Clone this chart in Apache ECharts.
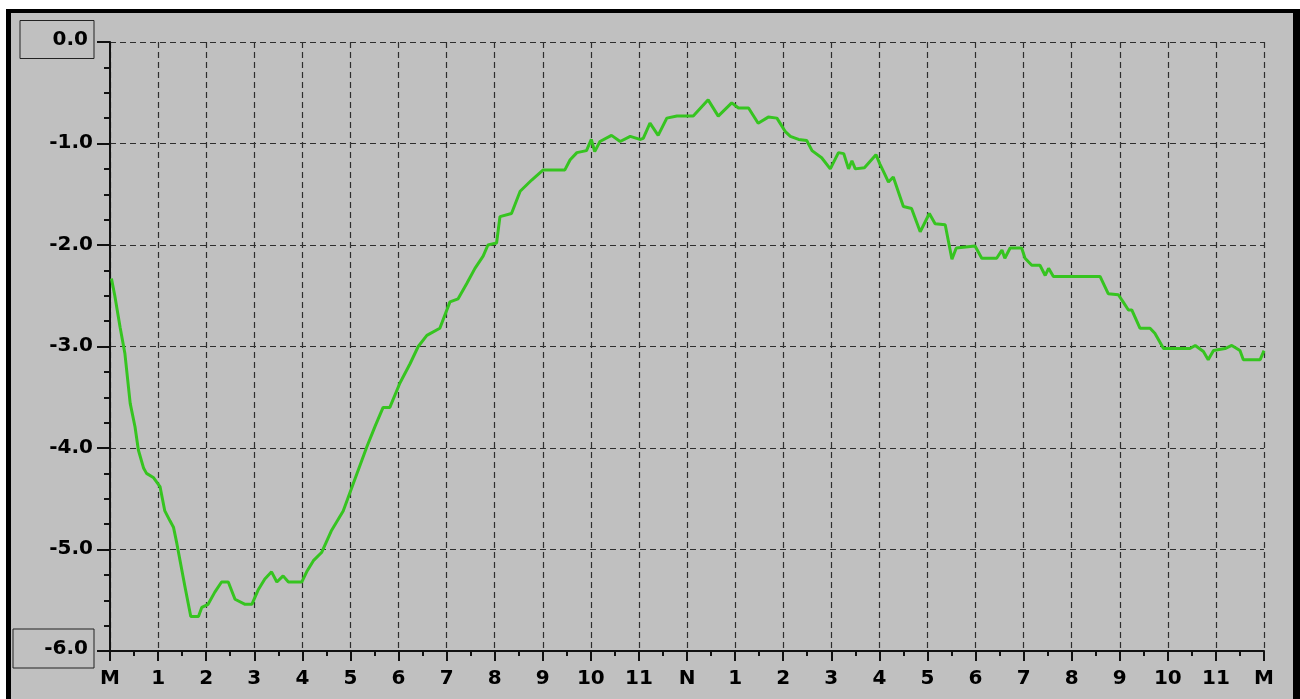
<!DOCTYPE html>
<html>
<head>
<meta charset="utf-8">
<script src="https://cdn.jsdelivr.net/npm/echarts@6/dist/echarts.min.js"></script>
<style>
  html, body { margin: 0; padding: 0; background: #fff; }
  #frame {
    position: absolute; left: 6px; top: 9px;
    width: 1282px; height: 700px;
    border-left: 5px solid #000; border-top: 4px solid #000; border-right: 7px solid #000;
    background: #c0c0c0;
  }
  #chart-container { position: absolute; left: 0; top: 0; width: 1300px; height: 699px; }
</style>
</head>
<body>
<div id="frame"></div>
<div id="chart-container"></div>
<script>
// hour labels along the bottom, midnight .. noon .. midnight
var hourLabels = ["M", "1", "2", "3", "4", "5", "6", "7", "8", "9", "10", "11",
  "N", "1", "2", "3", "4", "5", "6", "7", "8", "9", "10", "11", "M"];

// time of day (hours) and reading
var hours = [0.03, 0.10, 0.21, 0.31, 0.42, 0.52, 0.59, 0.70, 0.76, 0.90,
  1.04, 1.14, 1.25, 1.32, 1.39, 1.56, 1.68, 1.84, 1.91, 2.04,
  2.18, 2.32, 2.46, 2.60, 2.81, 2.95, 3.08, 3.22, 3.36, 3.47,
  3.60, 3.71, 3.99, 4.09, 4.23, 4.40, 4.61, 4.85, 5.06, 5.34,
  5.51, 5.68, 5.82, 6.03, 6.24, 6.41, 6.59, 6.86, 7.07, 7.24,
  7.42, 7.59, 7.76, 7.86, 8.04, 8.11, 8.35, 8.53, 8.77, 9.01,
  9.46, 9.57, 9.71, 9.91, 10.01, 10.08, 10.19, 10.43, 10.61, 10.82,
  11.02, 11.09, 11.23, 11.40, 11.58, 11.79, 12.13, 12.44, 12.65, 12.93,
  13.07, 13.28, 13.48, 13.69, 13.87, 14.04, 14.15, 14.32, 14.49, 14.60,
  14.80, 14.98, 15.15, 15.26, 15.36, 15.43, 15.50, 15.69, 15.93, 16.01,
  16.12, 16.19, 16.29, 16.50, 16.67, 16.85, 17.04, 17.16, 17.37, 17.51,
  17.60, 17.99, 18.13, 18.44, 18.55, 18.61, 18.72, 18.96, 19.03, 19.17,
  19.34, 19.45, 19.52, 19.62, 20.59, 20.76, 20.97, 21.07, 21.18, 21.25,
  21.42, 21.63, 21.73, 21.91, 22.46, 22.57, 22.74, 22.84, 22.95, 23.19,
  23.33, 23.50, 23.57, 23.92, 24.00];

var readings = [-2.33, -2.50, -2.81, -3.07, -3.56, -3.79, -4.02, -4.20, -4.25, -4.29,
  -4.38, -4.62, -4.72, -4.78, -4.94, -5.37, -5.66, -5.66, -5.57, -5.54,
  -5.42, -5.32, -5.32, -5.49, -5.54, -5.54, -5.40, -5.29, -5.22, -5.32,
  -5.26, -5.32, -5.32, -5.22, -5.11, -5.03, -4.81, -4.62, -4.35, -3.99,
  -3.79, -3.60, -3.60, -3.36, -3.17, -3.00, -2.89, -2.82, -2.56, -2.53,
  -2.38, -2.23, -2.11, -2.00, -1.98, -1.72, -1.69, -1.47, -1.36, -1.26,
  -1.26, -1.16, -1.09, -1.07, -0.96, -1.08, -0.98, -0.92, -0.98, -0.93,
  -0.96, -0.95, -0.80, -0.92, -0.75, -0.73, -0.73, -0.57, -0.73, -0.60,
  -0.65, -0.65, -0.80, -0.74, -0.75, -0.88, -0.93, -0.96, -0.97, -1.07,
  -1.14, -1.25, -1.09, -1.10, -1.25, -1.17, -1.25, -1.24, -1.11, -1.20,
  -1.31, -1.38, -1.33, -1.62, -1.64, -1.87, -1.69, -1.79, -1.80, -2.14,
  -2.03, -2.01, -2.13, -2.13, -2.05, -2.13, -2.03, -2.03, -2.13, -2.20,
  -2.20, -2.30, -2.23, -2.31, -2.31, -2.48, -2.49, -2.56, -2.64, -2.64,
  -2.82, -2.82, -2.87, -3.02, -3.02, -2.99, -3.05, -3.13, -3.04, -3.02,
  -2.99, -3.04, -3.13, -3.13, -3.04];

var points = hours.map(function (h, i) { return [h, readings[i]]; });

var dom = document.getElementById("chart-container");
var myChart = echarts.init(dom, null, { renderer: "canvas" });

var labelFont = { fontFamily: "DejaVu Sans", fontWeight: "bold", fontSize: 20, color: "#000" };

var option = {
  animation: false,
  backgroundColor: "transparent",
  grid: { left: 110, top: 42, width: 1154, height: 609 },
  xAxis: {
    type: "value",
    min: 0,
    max: 24,
    interval: 1,
    axisLine: { onZero: false, lineStyle: { color: "#111", width: 2 } },
    axisTick: { length: 10, lineStyle: { color: "#111", width: 2 } },
    minorTick: { show: true, splitNumber: 2, length: 5, lineStyle: { color: "#111", width: 2 } },
    axisLabel: Object.assign({
      margin: 18,
      formatter: function (v) { return hourLabels[Math.round(v)]; }
    }, labelFont),
    splitLine: { show: true, lineStyle: { color: "#2e2e2e", type: [6, 4], width: 1.2 } }
  },
  yAxis: {
    type: "value",
    min: -6,
    max: 0,
    interval: 1,
    axisLine: { show: true, onZero: false, lineStyle: { color: "#111", width: 2 } },
    axisTick: { show: true, length: 13, lineStyle: { color: "#111", width: 2 } },
    minorTick: { show: true, splitNumber: 4, length: 6, lineStyle: { color: "#111", width: 2 } },
    axisLabel: Object.assign({
      margin: 16,
      padding: [0, 0, 5, 0],
      formatter: function (v) {
        var s = v.toFixed(1);
        if (v === 0) return "{top|" + s + "}";
        if (v === -6) return "{bottom|" + s + "}";
        return "{plain|" + s + "}";
      },
      rich: {
        top: Object.assign({ width: 64, height: 30, padding: [4, 6, 4, 4], align: "right",
          borderColor: "#222", borderWidth: 1 }, labelFont),
        bottom: Object.assign({ width: 71, height: 31, padding: [4, 6, 4, 4], align: "right",
          borderColor: "#222", borderWidth: 1 }, labelFont),
        plain: Object.assign({ padding: [4, 1, 0, 0] }, labelFont)
      }
    }, labelFont),
    splitLine: { show: true, lineStyle: { color: "#2e2e2e", type: [6, 4], width: 1.2 } }
  },
  series: [
    {
      type: "line",
      data: points,
      showSymbol: false,
      lineStyle: { color: "#36c420", width: 3 },
      itemStyle: { color: "#36c420" }
    }
  ]
};

myChart.setOption(option);
window.addEventListener("resize", myChart.resize);
</script>
</body>
</html>
